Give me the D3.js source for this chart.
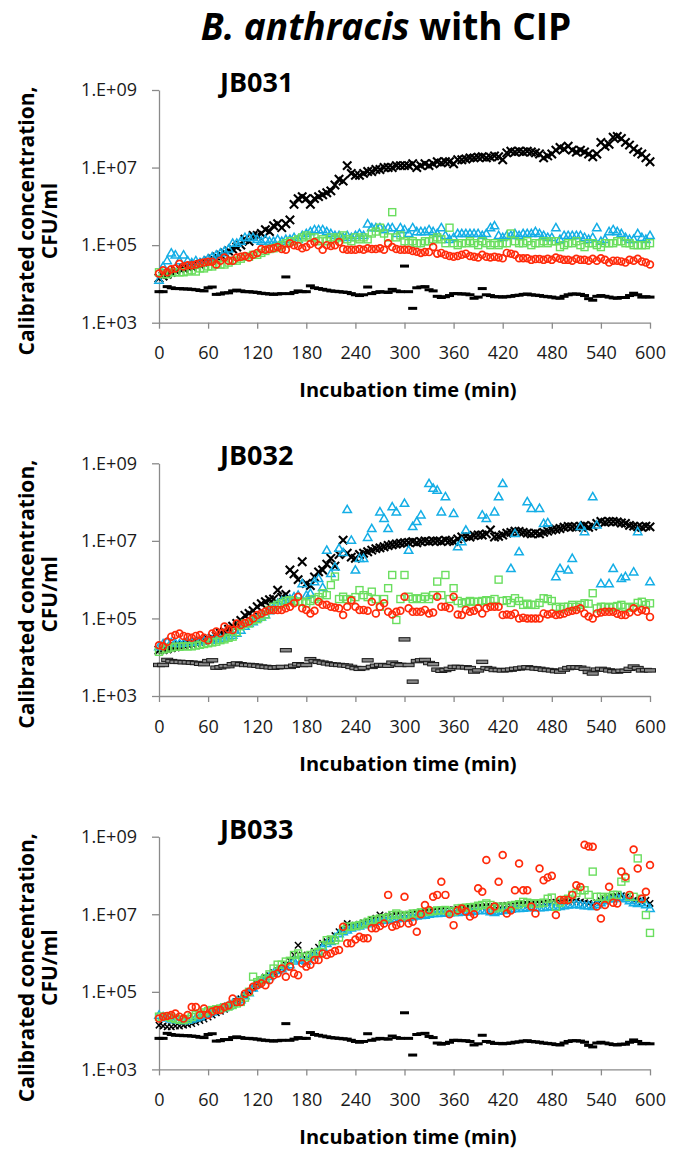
<!DOCTYPE html>
<html>
<head>
<meta charset="utf-8">
<script src="https://cdn.jsdelivr.net/npm/d3@7"></script>
<style>
  body { margin: 0; background: #fff; }
  svg { font-family: "Open Sans", sans-serif; }
</style>
</head>
<body>
<div id="root"></div>
<script>
// sampling times (min), every 5 min
var time = d3.range(0, 605, 5);

var xTicks = [0, 60, 120, 180, 240, 300, 360, 420, 480, 540, 600];
var yTicks = [1e3, 1e5, 1e7, 1e9];
var yTickLabels = ['1.E+03', '1.E+05', '1.E+07', '1.E+09'];

// all values below are log10(CFU/ml)

// negative control (black dashes), same in the three panels
var ctrlDash = [3.8,3.8,3.93,3.9,3.88,3.88,3.87,3.87,3.86,3.85,
  3.83,3.82,3.9,3.92,3.73,3.74,3.77,3.77,3.82,3.84,
  3.82,3.8,3.8,3.79,3.78,3.76,3.75,3.74,3.73,3.74,
  3.75,4.18,3.75,3.78,3.82,3.8,3.8,3.95,3.9,3.88,
  3.86,3.84,3.82,3.81,3.8,3.79,3.78,3.75,3.72,3.7,
  3.72,3.92,3.75,3.78,3.8,3.79,3.78,3.86,3.82,3.8,
  4.46,3.8,3.37,3.9,3.92,3.93,3.85,3.82,3.68,3.65,
  3.67,3.7,3.75,3.75,3.74,3.74,3.72,3.63,3.66,3.88,
  3.72,3.7,3.67,3.67,3.66,3.67,3.68,3.7,3.71,3.73,
  3.74,3.72,3.71,3.7,3.68,3.67,3.66,3.64,3.63,3.68,
  3.72,3.74,3.74,3.73,3.7,3.62,3.58,3.68,3.7,3.68,
  3.66,3.64,3.63,3.65,3.65,3.7,3.76,3.72,3.66,3.67,
  3.66];

// JB031
var jb031Cross = [4.15,4.2,4.25,4.3,4.35,4.4,4.4,4.45,4.45,4.5,
  4.5,4.55,4.6,4.65,4.7,4.75,4.8,4.85,4.9,4.95,
  5.0,5.15,5.1,5.25,5.25,5.3,5.4,5.35,5.5,5.55,
  5.45,5.55,5.65,6.05,6.2,6.25,6.2,6.05,6.2,6.25,
  6.3,6.35,6.4,6.55,6.7,6.65,7.05,6.85,6.8,6.8,
  6.85,6.9,6.9,6.95,6.95,7.0,7.0,7.0,7.05,7.05,
  7.05,7.05,7.1,7.0,7.05,7.1,7.05,7.1,7.15,7.12,
  7.15,7.15,7.1,7.2,7.2,7.22,7.25,7.25,7.27,7.28,
  7.25,7.27,7.3,7.28,7.2,7.38,7.42,7.4,7.42,7.4,
  7.42,7.4,7.38,7.35,7.25,7.3,7.35,7.45,7.52,7.48,
  7.55,7.45,7.4,7.45,7.4,7.35,7.28,7.35,7.65,7.55,
  7.6,7.78,7.8,7.75,7.65,7.58,7.48,7.4,7.35,7.25,
  7.15];
var jb031Tri = [4.1,4.45,4.6,4.8,4.75,4.6,4.75,4.6,4.55,4.6,
  4.55,4.6,4.65,4.7,4.75,4.8,4.85,4.9,5.05,5.05,
  5.1,5.2,5.2,5.2,5.15,5.1,5.15,5.1,5.1,5.15,
  5.1,5.15,5.15,5.2,5.15,5.25,5.3,5.35,5.4,5.4,
  5.4,5.35,5.3,5.25,5.25,5.2,5.25,5.2,5.25,5.3,
  5.25,5.55,5.45,5.45,5.45,5.4,5.45,5.45,5.3,5.45,
  5.4,5.3,5.45,5.35,5.35,5.35,5.4,5.35,5.3,5.45,
  5.25,5.15,5.2,5.3,5.3,5.3,5.3,5.3,5.3,5.25,
  5.3,5.45,5.5,5.25,5.2,5.25,5.25,5.3,5.25,5.3,
  5.3,5.3,5.35,5.3,5.25,5.2,5.2,5.45,5.15,5.25,
  5.25,5.25,5.25,5.25,5.2,5.15,5.2,5.45,5.1,5.15,
  5.35,5.4,5.35,5.3,5.2,5.15,5.15,5.3,5.2,5.15,
  5.25];
var jb031Sq = [4.3,4.25,4.25,4.3,4.3,4.3,4.3,4.32,4.35,4.32,
  4.4,4.4,4.45,4.45,4.5,4.5,4.5,4.55,4.6,4.6,
  4.65,4.7,4.7,4.75,4.75,4.8,4.85,4.9,4.92,4.95,
  5.0,5.05,5.1,5.1,5.15,5.2,5.25,5.2,5.2,5.1,
  5.15,5.1,5.2,5.15,5.2,5.25,5.15,5.1,5.2,5.15,
  5.2,5.15,5.3,5.35,5.45,5.3,5.2,5.85,5.2,5.25,
  5.1,5.05,5.1,5.05,5.05,5.1,5.1,5.15,5.2,5.15,
  5.05,5.45,5.05,5.0,5.05,5.05,5.1,5.05,5.0,5.1,
  5.05,5.0,5.05,5.0,5.05,5.05,5.3,5.1,5.05,5.05,
  5.1,5.0,5.05,5.05,5.1,5.05,5.1,5.1,4.95,5.0,
  5.05,5.05,5.1,5.0,4.95,5.05,5.05,5.0,4.95,5.05,
  5.05,5.05,5.1,5.1,5.05,5.05,5.0,5.0,5.0,5.0,
  5.05];
var jb031Circ = [4.27,4.35,4.3,4.38,4.4,4.52,4.45,4.48,4.48,4.5,
  4.53,4.55,4.57,4.57,4.5,4.6,4.68,4.6,4.6,4.68,
  4.7,4.72,4.68,4.75,4.8,4.9,4.88,4.9,4.92,4.95,
  4.9,4.88,5.05,5.0,4.98,4.92,4.95,5.03,5.08,5.0,
  4.88,5.0,4.98,5.0,5.08,4.9,4.88,4.88,4.88,4.9,
  4.88,4.92,4.9,4.9,4.92,4.88,5.05,4.95,4.9,4.88,
  4.88,4.88,4.85,4.83,4.8,4.82,4.82,4.95,4.78,4.8,
  4.75,4.72,4.7,4.72,4.75,4.78,4.72,4.7,4.68,4.75,
  4.7,4.68,4.7,4.68,4.66,4.8,4.78,4.75,4.66,4.66,
  4.66,4.62,4.64,4.64,4.62,4.65,4.62,4.68,4.65,4.62,
  4.62,4.6,4.65,4.62,4.62,4.6,4.65,4.6,4.66,4.62,
  4.55,4.6,4.6,4.58,4.55,4.62,4.6,4.65,4.58,4.55,
  4.5];

// JB032
var jb032Cross = [4.18,4.2,4.22,4.25,4.27,4.3,4.32,4.34,4.36,4.38,
  4.4,4.42,4.45,4.5,4.55,4.62,4.66,4.72,4.8,4.87,
  4.95,5.08,5.13,5.2,5.3,5.38,5.43,5.48,5.5,5.73,
  5.55,5.62,6.25,6.15,6.0,6.46,5.9,5.85,6.07,6.2,
  6.25,6.4,6.55,6.35,6.65,7.02,6.68,6.58,6.55,6.65,
  6.68,6.72,6.76,6.8,6.82,6.85,6.88,6.9,6.92,6.94,
  6.95,6.96,6.98,6.95,6.98,7.0,6.98,7.0,7.0,6.98,
  7.02,7.0,6.98,7.05,7.1,7.12,7.1,7.14,7.15,7.15,
  7.18,7.28,7.1,7.12,7.15,7.2,7.22,7.25,7.24,7.22,
  7.2,7.18,7.2,7.18,7.22,7.25,7.28,7.3,7.32,7.35,
  7.37,7.36,7.35,7.38,7.4,7.35,7.38,7.45,7.5,7.48,
  7.5,7.5,7.49,7.46,7.45,7.4,7.38,7.36,7.35,7.38,
  7.36];
var jb032Tri = [4.27,4.35,4.4,4.38,4.36,4.35,4.36,4.38,4.38,4.4,
  4.4,4.42,4.44,4.45,4.44,4.48,4.5,4.55,4.57,4.62,
  4.7,4.8,4.87,4.92,5.0,5.04,5.1,5.2,5.3,5.39,
  5.45,5.47,5.5,5.56,5.6,5.9,5.6,5.65,5.95,6.03,
  5.8,6.76,6.16,6.33,6.81,6.7,7.81,7.02,6.25,6.55,
  6.55,7.09,7.32,null,7.75,7.58,7.32,7.88,7.75,null,
  7.97,6.76,7.37,7.5,7.67,null,8.48,8.36,8.31,7.75,
  8.14,null,7.71,6.85,6.98,7.28,null,null,null,7.67,
  7.58,null,7.75,8.14,8.48,null,6.29,7.19,6.72,null,
  8.01,7.84,null,7.84,7.45,7.47,null,6.08,6.29,null,
  6.25,6.55,null,7.37,7.24,null,8.14,7.41,5.9,null,
  5.9,6.29,null,6.03,6.08,null,6.2,7.24,null,null,
  5.95];
var jb032Sq = [4.14,4.2,4.22,4.25,4.27,4.27,4.28,4.28,4.28,4.3,
  4.32,4.34,4.36,4.38,4.4,4.44,4.46,4.5,4.53,4.65,
  4.8,4.87,4.87,4.95,4.98,5.04,5.1,5.22,5.3,5.35,
  5.4,5.45,5.47,5.45,5.43,5.43,5.39,5.45,5.5,5.55,
  5.65,5.6,5.86,6.08,5.5,5.56,5.5,5.47,5.55,5.73,
  5.6,5.55,5.69,5.5,5.3,5.5,5.78,6.12,4.96,5.5,
  6.12,5.56,5.5,5.52,5.5,5.56,5.5,5.6,5.95,5.6,
  6.12,5.5,5.78,5.45,5.39,5.42,5.45,5.43,5.43,5.45,
  5.47,5.45,5.5,6.0,5.45,5.47,5.4,5.52,5.45,5.35,
  5.38,5.35,5.35,5.4,5.52,5.5,5.45,5.3,5.25,5.3,
  5.3,5.35,5.3,5.35,5.39,5.38,5.65,5.26,5.3,5.3,
  5.28,5.3,5.32,5.35,5.3,5.28,5.3,5.4,5.43,5.35,
  5.39];
var jb032Circ = [4.31,4.28,4.4,4.53,4.57,4.61,4.55,4.52,4.5,4.55,
  4.57,4.5,4.44,4.61,4.66,4.62,4.79,4.72,4.7,4.87,
  4.83,4.88,4.92,5.0,5.09,5.13,5.18,5.22,5.22,5.22,
  5.22,5.26,5.3,5.39,5.56,5.26,5.22,5.13,5.2,5.43,
  5.35,5.35,5.3,5.28,5.26,5.09,5.3,5.47,5.3,5.22,
  5.22,5.2,5.43,5.13,5.3,5.39,5.17,5.1,5.17,5.2,
  5.56,5.26,5.17,5.17,5.17,5.22,5.13,5.15,5.56,5.3,
  5.3,5.26,5.56,5.1,5.09,5.22,5.17,5.2,5.26,5.13,
  5.26,5.3,5.3,5.3,5.09,5.1,5.09,5.13,5.0,5.02,
  5.0,5.0,5.0,5.0,5.13,5.1,5.13,5.09,5.1,5.13,
  5.17,5.2,5.22,5.26,5.13,5.05,5.0,5.13,5.15,5.17,
  5.17,5.17,5.12,5.09,5.09,5.15,5.26,5.17,5.22,5.2,
  5.04];

// JB033
var jb033Cross = [4.14,4.12,4.1,4.1,4.12,4.12,4.14,4.16,4.18,4.22,
  4.26,4.3,4.35,4.4,4.46,4.5,4.55,4.62,4.68,4.75,
  4.82,4.92,5.0,5.1,5.18,5.28,5.38,5.42,5.5,5.55,
  5.6,5.7,5.8,5.95,6.2,5.95,5.85,5.95,6.05,6.15,
  6.25,6.3,6.35,6.45,6.55,6.6,6.76,6.7,6.72,6.74,
  6.78,6.82,6.86,6.9,6.98,6.95,6.95,6.96,6.97,6.98,
  7.0,7.0,7.02,7.03,7.05,7.06,7.07,7.08,7.1,7.1,
  7.11,7.11,7.12,7.13,7.15,7.15,7.16,7.17,7.18,7.18,
  7.2,7.2,7.2,7.22,7.22,7.23,7.24,7.24,7.25,7.25,
  7.26,7.26,7.27,7.27,7.28,7.3,7.3,7.31,7.32,7.32,
  7.32,7.33,7.34,7.32,7.3,7.28,7.25,7.3,7.35,7.38,
  7.42,7.44,7.46,7.48,7.44,7.4,7.36,7.34,7.32,7.36,
  7.28];
var jb033Tri = [4.4,4.36,4.33,4.3,4.28,4.27,4.26,4.27,4.3,4.33,
  4.36,4.4,4.44,4.48,4.52,4.57,4.6,4.64,4.7,4.76,
  4.8,4.9,4.98,5.1,5.2,5.3,5.33,5.4,5.48,5.55,
  5.6,5.65,5.7,5.8,5.85,5.82,5.8,5.9,5.95,6.05,
  6.15,6.25,6.3,6.4,6.5,6.55,6.6,6.65,6.68,6.7,
  6.73,6.76,6.8,6.82,6.84,6.85,6.86,6.88,6.89,6.9,
  6.9,6.92,6.94,6.96,6.97,6.98,7.0,7.02,7.02,7.03,
  7.04,7.04,7.05,7.05,7.06,7.06,7.07,7.08,7.1,7.1,
  7.1,7.07,7.05,7.08,7.1,7.12,7.13,7.15,7.15,7.16,
  7.17,7.18,7.18,7.17,7.18,7.19,7.2,7.19,7.2,7.22,
  7.24,7.25,7.26,7.24,7.22,7.22,7.2,7.25,7.3,7.35,
  7.4,7.4,7.42,7.45,7.4,7.35,7.3,7.28,7.3,7.25,
  7.15];
var jb033Sq = [4.36,4.36,4.36,4.33,4.3,4.28,4.27,4.3,4.35,4.4,
  4.44,4.47,4.5,4.53,4.55,4.57,4.6,4.62,4.66,4.7,
  4.74,4.85,5.0,5.39,5.25,5.3,5.35,5.45,5.6,5.7,
  5.7,5.78,5.8,5.95,5.99,5.9,5.9,5.95,6.0,6.03,
  6.2,6.33,6.35,6.33,6.4,6.6,6.68,6.68,6.7,6.72,
  6.76,6.8,6.85,6.86,6.89,6.9,6.92,6.98,7.02,6.98,
  6.94,6.98,7.02,7.02,7.05,7.06,7.07,7.08,7.1,7.1,
  7.11,7.08,7.07,7.15,7.16,7.17,7.18,7.19,7.22,7.24,
  7.28,7.24,7.15,7.2,7.17,7.2,7.22,7.24,7.26,7.32,
  7.3,7.28,7.28,7.28,7.3,7.4,7.43,7.19,7.3,7.37,
  7.4,7.5,7.55,7.62,7.62,7.5,8.1,7.45,7.45,7.4,
  7.45,7.5,7.5,7.84,7.93,7.45,7.45,8.44,7.4,6.98,
  6.52];
var jb033Circ = [4.31,4.36,4.38,4.4,4.44,4.36,4.31,4.4,4.61,4.61,
  4.4,4.57,4.4,4.49,4.53,4.53,4.61,4.65,4.83,4.74,
  4.74,4.95,5.0,5.13,5.17,5.22,5.17,5.3,5.43,5.47,
  5.6,5.39,5.65,5.47,5.43,5.73,5.65,5.7,5.82,5.82,
  5.99,5.95,5.99,6.05,6.08,6.68,6.25,6.25,6.35,6.42,
  6.38,6.38,6.64,6.64,6.7,6.76,7.5,6.68,6.72,6.76,
  7.45,6.76,6.81,6.55,7.0,7.24,7.11,7.45,7.5,7.84,
  7.5,7.0,6.72,7.1,7.15,7.07,6.94,7.0,7.67,7.58,
  8.4,7.1,7.2,7.84,8.53,7.02,7.1,7.62,8.31,7.62,
  7.62,7.2,7.02,8.18,7.88,7.95,7.99,6.98,7.37,7.37,
  7.37,7.5,7.75,7.7,8.79,8.75,8.74,7.2,6.89,7.24,
  7.71,7.3,7.28,8.1,7.97,7.5,8.67,8.18,7.4,7.58,
  8.27];

var panelNames = ['JB031', 'JB032', 'JB033'];
var crossSeries = [jb031Cross, jb032Cross, jb033Cross];
var triSeries = [jb031Tri, jb032Tri, jb033Tri];
var sqSeries = [jb031Sq, jb032Sq, jb033Sq];
var circSeries = [jb031Circ, jb032Circ, jb033Circ];

var width = 683;
var height = 1149;
var x0 = 159, x1 = 650;
var plotH = 232.7;
var tops = [90, 463.3, 836.7];

var axisColor = '#8a8a8a';
var blue = '#14aee6';
var green = '#6ade5e';
var red = '#ff2a0a';

var svg = d3.select('#root')
  .append('svg')
    .attr('width', width)
    .attr('height', height);

// main title
svg.append('text')
  .attr('x', 386)
  .attr('y', 40)
  .attr('text-anchor', 'middle')
  .attr('font-size', 37)
  .attr('font-weight', 'bold')
  .call(function(t) {
    t.append('tspan').attr('font-style', 'italic').text('B. anthracis');
    t.append('tspan').text(' with CIP');
  });

var x = d3.scaleLinear().domain([0, 600]).range([x0, x1]);

function points(arr) {
  return time.map(function(t, i) {
    return { t: t, v: arr[i] };
  }).filter(function(d) { return d.v != null; });
}

tops.forEach(function(top, k) {
  var bottom = top + plotH;
  var y = d3.scaleLog().domain([1e3, 1e9]).range([bottom, top]);
  var g = svg.append('g');

  var xAxis = g.append('g')
    .attr('transform', 'translate(0,' + bottom + ')')
    .call(d3.axisBottom(x).tickValues(xTicks).tickSize(6).tickSizeOuter(0).tickPadding(18));

  var yAxis = g.append('g')
    .attr('transform', 'translate(' + x0 + ',0)')
    .call(d3.axisLeft(y).tickValues(yTicks)
      .tickFormat(function(d, i) { return yTickLabels[i]; })
      .tickSize(7).tickSizeOuter(0).tickPadding(15));

  [xAxis, yAxis].forEach(function(a) {
    a.attr('font-family', null).attr('font-size', 18);
    a.select('.domain').attr('stroke', axisColor).attr('stroke-width', 1.3);
    a.selectAll('.tick line').attr('stroke', axisColor).attr('stroke-width', 1.3);
    a.selectAll('.tick text').attr('fill', '#1a1a1a');
  });

  // panel label
  g.append('text')
    .attr('x', 220)
    .attr('y', top + 2)
    .attr('font-size', 27)
    .attr('font-weight', 'bold')
    .text(panelNames[k]);

  // axis titles
  g.append('text')
    .attr('x', 408)
    .attr('y', bottom + 74.5)
    .attr('text-anchor', 'middle')
    .attr('font-size', 20)
    .attr('font-weight', 'bold')
    .text('Incubation time (min)');

  var yTitle = ['Calibrated concentration,', 'CFU/ml'];
  var yTitleX = [34, 57];
  yTitle.forEach(function(s, j) {
    g.append('text')
      .attr('transform', 'translate(' + yTitleX[j] + ',' + (top + 131) + ') rotate(-90)')
      .attr('text-anchor', 'middle')
      .attr('font-size', 21)
      .attr('font-weight', 'bold')
      .text(s);
  });

  var small = (k === 2);
  var cs = small ? 3.2 : 4.2;

  // crosses
  g.append('g').selectAll('path')
    .data(points(crossSeries[k]))
    .enter().append('path')
      .attr('d', 'M' + (-cs) + ',' + (-cs) + 'L' + cs + ',' + cs + 'M' + (-cs) + ',' + cs + 'L' + cs + ',' + (-cs))
      .attr('stroke', '#000')
      .attr('stroke-width', small ? 1.5 : 2.1)
      .attr('transform', function(d) {
        return 'translate(' + x(d.t) + ',' + y(Math.pow(10, d.v)) + ')';
      });

  // triangles
  g.append('g').selectAll('path')
    .data(points(triSeries[k]))
    .enter().append('path')
      .attr('d', 'M0,-4.2L4.2,3.1L-4.2,3.1Z')
      .attr('fill', 'none')
      .attr('stroke', blue)
      .attr('stroke-width', 1.5)
      .attr('transform', function(d) {
        return 'translate(' + x(d.t) + ',' + y(Math.pow(10, d.v)) + ')';
      });

  // squares
  g.append('g').selectAll('rect')
    .data(points(sqSeries[k]))
    .enter().append('rect')
      .attr('x', function(d) { return x(d.t) - 3.5; })
      .attr('y', function(d) { return y(Math.pow(10, d.v)) - 3.5; })
      .attr('width', 7)
      .attr('height', 7)
      .attr('fill', 'none')
      .attr('stroke', green)
      .attr('stroke-width', 1.4);

  // circles
  g.append('g').selectAll('circle')
    .data(points(circSeries[k]))
    .enter().append('circle')
      .attr('cx', function(d) { return x(d.t); })
      .attr('cy', function(d) { return y(Math.pow(10, d.v)); })
      .attr('r', 3.4)
      .attr('fill', 'none')
      .attr('stroke', red)
      .attr('stroke-width', 1.7);

  // control dashes
  var dw = (k === 1) ? 11 : 9;
  var dh = (k === 1) ? 3.4 : 3;
  g.append('g').selectAll('rect')
    .data(points(ctrlDash))
    .enter().append('rect')
      .attr('x', function(d) { return x(d.t) - dw / 2; })
      .attr('y', function(d) { return y(Math.pow(10, d.v)) - dh / 2; })
      .attr('width', dw)
      .attr('height', dh)
      .attr('fill', (k === 1) ? '#8a8a8a' : '#000')
      .attr('stroke', (k === 1) ? '#1a1a1a' : 'none')
      .attr('stroke-width', 1);
});
</script>
</body>
</html>
